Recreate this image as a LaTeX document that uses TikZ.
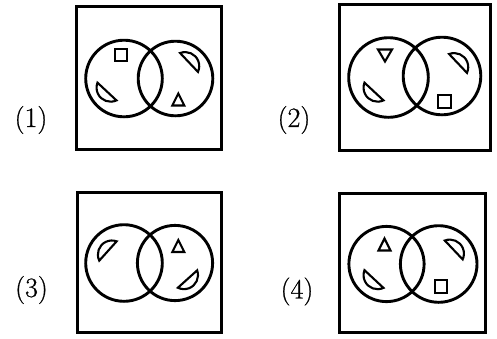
\documentclass[tikz,border=0pt]{standalone}
\usepackage{fontspec}
\setmainfont{Latin Modern Roman}
\newfontfamily\labfont{Latin Modern Roman}[FakeBold=0.7]
\tikzset{
  framebox/.style={line width=3pt},
  venn/.style={line width=2.9pt},
  small/.style={line width=2.1pt, line join=miter},
  lbl/.style={font=\labfont\fontsize{28}{33}\selectfont, inner sep=0pt},
}
\newcommand\moonshape[3]{%
  \draw[small,shift={(#1,#2)}] (#3+180:5.2) ++(#3-68:14)
     arc[start angle=#3-68, end angle=#3+68, radius=14] -- cycle;}
\newcommand\upTri[2]{% apex x, apex y
  \draw[small] (#1,#2) -- ++(-6,12) -- ++(12,0) -- cycle;}
\newcommand\downTri[2]{%
  \draw[small] (#1,#2) -- ++(-7,-12) -- ++(14,0) -- cycle;}
\newcommand\sq[2]{%
  \draw[small] (#1-6.3,#2-6.3) rectangle (#1+6.3,#2+6.3);}
\begin{document}
\begin{tikzpicture}[x=1pt,y=-1pt]
\useasboundingbox (0,0) rectangle (497,338);
% labels
\node[lbl] (l1) at (31,120) {(1)};
\node[lbl] (l2) at (294,120) {(2)};
\node[lbl] (l3) at (31.5,290) {(3)};
\node[lbl] (l4) at (297,291.5) {(4)};
% panel 1
\draw[framebox] (76.5,6.5) rectangle (221.5,149.5);
\draw[venn] (124,78.5) circle[radius=38.3];
\draw[venn] (175.5,78.5) circle[radius=37.3];
\sq{121}{55}
\moonshape{107}{91.5}{133}
\moonshape{189}{62.5}{-43.5}
\upTri{178.3}{93.5}
% panel 2
\draw[framebox] (339.8,4.2) rectangle (490.2,150.2);
\draw[venn] (388.5,77.5) circle[radius=39.8];
\draw[venn] (442,76) circle[radius=38.8];
\downTri{385}{61.5}
\moonshape{374}{91.5}{133}
\moonshape{458}{63.5}{-43.5}
\sq{444.5}{101.5}
% panel 3
\draw[framebox] (77.5,192.2) rectangle (221.8,332.8);
\draw[venn] (124,263) circle[radius=38.3];
\draw[venn] (175,263) circle[radius=37.6];
\moonshape{108}{251}{-138}
\upTri{178.3}{240}
\moonshape{187.5}{279}{48}
% panel 4
\draw[framebox] (339.8,193.2) rectangle (485.3,332.8);
\draw[venn] (386.5,264) circle[radius=37.6];
\draw[venn] (438.7,264) circle[radius=38.3];
\upTri{384.5}{238.5}
\moonshape{374}{279}{133}
\moonshape{453.7}{250}{-43.5}
\sq{441}{286.5}
\end{tikzpicture}
\end{document}
